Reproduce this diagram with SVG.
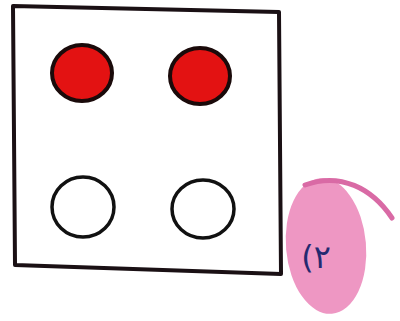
<svg xmlns="http://www.w3.org/2000/svg" width="400" height="321" viewBox="0 0 400 321">
<style>
.frame{fill:none;stroke:#1a1014;stroke-width:4;stroke-linejoin:round}
.red{fill:#e31212;stroke:#1a0a0a;stroke-width:4}
.empty{fill:#fff;stroke:#111;stroke-width:3.5}
.lbl{font-family:"DejaVu Sans","Noto Sans",sans-serif;font-size:32px;fill:#232a70}
</style>
<rect width="400" height="321" fill="#fff"/>
<g id="board">
<path class="frame" d="M13,6 L279,12 L281,274 L15,265 Z"/>
</g>
<g id="c1"><ellipse class="red" cx="82" cy="73" rx="30" ry="28"/></g>
<g id="c2"><ellipse class="red" cx="200" cy="76" rx="30" ry="28"/></g>
<g id="c3"><ellipse class="empty" cx="83" cy="207" rx="31" ry="30"/></g>
<g id="c4"><ellipse class="empty" cx="203" cy="209" rx="31" ry="29"/></g>
<g id="tag">
<ellipse cx="326" cy="246" rx="40" ry="68" transform="rotate(-5 326 246)" fill="#ec8cbd" opacity="0.9"/>
<path d="M305,185 C340,172 372,188 392,218" fill="none" stroke="#d96aa5" stroke-width="5" stroke-linecap="round"/>
<text class="lbl" x="316" y="268" text-anchor="middle">(۲</text>
</g>
</svg>
